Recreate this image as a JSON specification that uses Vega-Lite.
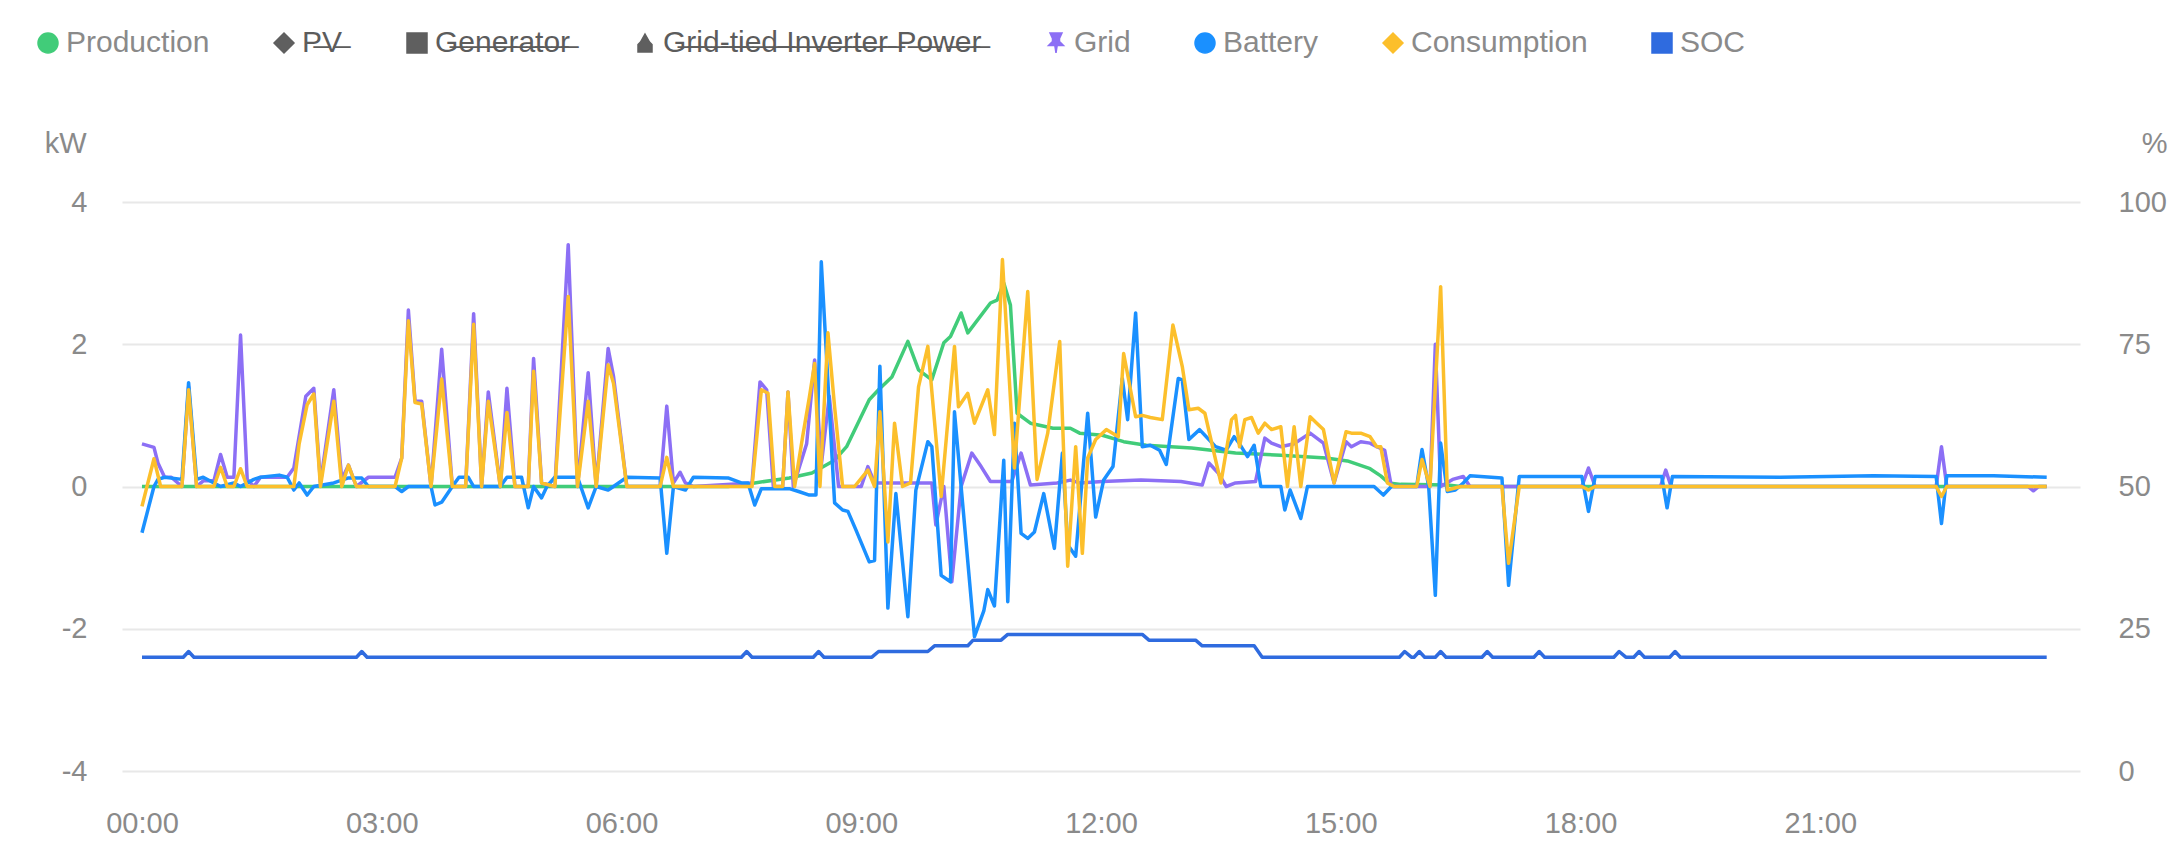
{
  "$schema": "https://vega.github.io/schema/vega-lite/v6.json",
  "width": 1958,
  "height": 569,
  "autosize": {"type": "none"},
  "padding": {"left": 122, "top": 202, "right": 93, "bottom": 70},
  "background": "white",
  "config": {
    "font": "Liberation Sans",
    "view": {"stroke": null},
    "axis": {"domain": false, "ticks": false, "tickSize": 0, "labelColor": "#8a8a8a", "labelFontSize": 29, "titleColor": "#8a8a8a", "titleFontSize": 29, "titleFontWeight": "normal", "gridColor": "#e8e8e8", "gridWidth": 2}
  },
  "datasets": {
    "d": [
      {"series":"Production","time":"00:00","value":0},{"series":"Production","time":"07:20","value":0},{"series":"Production","time":"07:40","value":0.05},{"series":"Production","time":"08:06","value":0.12},{"series":"Production","time":"08:23","value":0.19},{"series":"Production","time":"08:40","value":0.37},{"series":"Production","time":"08:49","value":0.56},{"series":"Production","time":"09:06","value":1.22},{"series":"Production","time":"09:13","value":1.36},{"series":"Production","time":"09:23","value":1.54},{"series":"Production","time":"09:35","value":2.04},{"series":"Production","time":"09:43","value":1.64},{"series":"Production","time":"09:53","value":1.5},{"series":"Production","time":"10:02","value":2.02},{"series":"Production","time":"10:07","value":2.11},{"series":"Production","time":"10:15","value":2.44},{"series":"Production","time":"10:20","value":2.16},{"series":"Production","time":"10:37","value":2.58},{"series":"Production","time":"10:42","value":2.62},{"series":"Production","time":"10:47","value":2.86},{"series":"Production","time":"10:52","value":2.55},{"series":"Production","time":"10:57","value":1.03},{"series":"Production","time":"11:07","value":0.89},{"series":"Production","time":"11:24","value":0.82},{"series":"Production","time":"11:37","value":0.82},{"series":"Production","time":"11:44","value":0.75},{"series":"Production","time":"12:01","value":0.72},{"series":"Production","time":"12:17","value":0.63},{"series":"Production","time":"12:34","value":0.58},{"series":"Production","time":"13:08","value":0.54},{"series":"Production","time":"13:41","value":0.47},{"series":"Production","time":"14:15","value":0.44},{"series":"Production","time":"14:49","value":0.4},{"series":"Production","time":"15:05","value":0.36},{"series":"Production","time":"15:22","value":0.25},{"series":"Production","time":"15:30","value":0.15},{"series":"Production","time":"15:36","value":0.05},{"series":"Production","time":"15:45","value":0.03},{"series":"Production","time":"16:20","value":0.02},{"series":"Production","time":"16:30","value":0},{"series":"Production","time":"23:50","value":0},

      {"series":"Grid","time":"00:00","value":0.6},{"series":"Grid","time":"00:09","value":0.55},{"series":"Grid","time":"00:12","value":0.33},{"series":"Grid","time":"00:17","value":0.13},{"series":"Grid","time":"00:22","value":0.13},{"series":"Grid","time":"00:30","value":0},{"series":"Grid","time":"00:35","value":1.4},{"series":"Grid","time":"00:41","value":0},{"series":"Grid","time":"00:46","value":0.08},{"series":"Grid","time":"00:54","value":0.08},{"series":"Grid","time":"00:59","value":0.45},{"series":"Grid","time":"01:04","value":0.13},{"series":"Grid","time":"01:09","value":0.13},{"series":"Grid","time":"01:14","value":2.13},{"series":"Grid","time":"01:19","value":0.1},{"series":"Grid","time":"01:24","value":0},{"series":"Grid","time":"01:29","value":0.13},{"series":"Grid","time":"01:49","value":0.13},{"series":"Grid","time":"01:54","value":0.26},{"series":"Grid","time":"02:03","value":1.27},{"series":"Grid","time":"02:09","value":1.38},{"series":"Grid","time":"02:14","value":0.05},{"series":"Grid","time":"02:24","value":1.36},{"series":"Grid","time":"02:30","value":0.1},{"series":"Grid","time":"02:35","value":0.3},{"series":"Grid","time":"02:41","value":0},{"series":"Grid","time":"02:50","value":0.13},{"series":"Grid","time":"03:10","value":0.13},{"series":"Grid","time":"03:15","value":0.4},{"series":"Grid","time":"03:20","value":2.48},{"series":"Grid","time":"03:25","value":1.2},{"series":"Grid","time":"03:30","value":1.2},{"series":"Grid","time":"03:37","value":0},{"series":"Grid","time":"03:45","value":1.93},{"series":"Grid","time":"03:53","value":0},{"series":"Grid","time":"04:03","value":0},{"series":"Grid","time":"04:09","value":2.43},{"series":"Grid","time":"04:15","value":0},{"series":"Grid","time":"04:20","value":1.33},{"series":"Grid","time":"04:29","value":0},{"series":"Grid","time":"04:34","value":1.38},{"series":"Grid","time":"04:40","value":0},{"series":"Grid","time":"04:50","value":0},{"series":"Grid","time":"04:54","value":1.8},{"series":"Grid","time":"05:00","value":0.05},{"series":"Grid","time":"05:10","value":0},{"series":"Grid","time":"05:20","value":3.4},{"series":"Grid","time":"05:27","value":0},{"series":"Grid","time":"05:35","value":1.6},{"series":"Grid","time":"05:41","value":0},{"series":"Grid","time":"05:50","value":1.94},{"series":"Grid","time":"05:54","value":1.55},{"series":"Grid","time":"06:04","value":0},{"series":"Grid","time":"06:29","value":0},{"series":"Grid","time":"06:34","value":1.13},{"series":"Grid","time":"06:39","value":0.05},{"series":"Grid","time":"06:44","value":0.2},{"series":"Grid","time":"06:48","value":0.05},{"series":"Grid","time":"06:54","value":0},{"series":"Grid","time":"07:38","value":0.05},{"series":"Grid","time":"07:44","value":1.47},{"series":"Grid","time":"07:49","value":1.36},{"series":"Grid","time":"07:54","value":0},{"series":"Grid","time":"08:01","value":0},{"series":"Grid","time":"08:05","value":1.33},{"series":"Grid","time":"08:09","value":0},{"series":"Grid","time":"08:19","value":0.6},{"series":"Grid","time":"08:25","value":1.78},{"series":"Grid","time":"08:30","value":0.3},{"series":"Grid","time":"08:36","value":1.27},{"series":"Grid","time":"08:43","value":0},{"series":"Grid","time":"09:00","value":0},{"series":"Grid","time":"09:05","value":0.28},{"series":"Grid","time":"09:10","value":0.05},{"series":"Grid","time":"09:53","value":0.05},{"series":"Grid","time":"09:56","value":-0.54},{"series":"Grid","time":"10:02","value":0},{"series":"Grid","time":"10:08","value":-1.34},{"series":"Grid","time":"10:15","value":0},{"series":"Grid","time":"10:23","value":0.47},{"series":"Grid","time":"10:30","value":0.28},{"series":"Grid","time":"10:37","value":0.07},{"series":"Grid","time":"10:53","value":0.07},{"series":"Grid","time":"11:00","value":0.47},{"series":"Grid","time":"11:07","value":0.02},{"series":"Grid","time":"11:27","value":0.05},{"series":"Grid","time":"11:37","value":0.09},{"series":"Grid","time":"11:44","value":0.05},{"series":"Grid","time":"12:01","value":0.07},{"series":"Grid","time":"12:30","value":0.09},{"series":"Grid","time":"13:00","value":0.07},{"series":"Grid","time":"13:16","value":0.02},{"series":"Grid","time":"13:21","value":0.33},{"series":"Grid","time":"13:28","value":0.19},{"series":"Grid","time":"13:34","value":0},{"series":"Grid","time":"13:41","value":0.05},{"series":"Grid","time":"13:56","value":0.07},{"series":"Grid","time":"14:03","value":0.68},{"series":"Grid","time":"14:08","value":0.61},{"series":"Grid","time":"14:15","value":0.56},{"series":"Grid","time":"14:25","value":0.6},{"series":"Grid","time":"14:37","value":0.75},{"series":"Grid","time":"14:47","value":0.61},{"series":"Grid","time":"14:55","value":0.05},{"series":"Grid","time":"15:04","value":0.63},{"series":"Grid","time":"15:08","value":0.56},{"series":"Grid","time":"15:15","value":0.63},{"series":"Grid","time":"15:22","value":0.61},{"series":"Grid","time":"15:27","value":0.56},{"series":"Grid","time":"15:33","value":0.51},{"series":"Grid","time":"15:38","value":0},{"series":"Grid","time":"16:07","value":0},{"series":"Grid","time":"16:11","value":2.0},{"series":"Grid","time":"16:15","value":0},{"series":"Grid","time":"16:24","value":0.1},{"series":"Grid","time":"16:32","value":0.14},{"series":"Grid","time":"16:37","value":0},{"series":"Grid","time":"18:01","value":0},{"series":"Grid","time":"18:06","value":0.26},{"series":"Grid","time":"18:11","value":0},{"series":"Grid","time":"19:00","value":0},{"series":"Grid","time":"19:04","value":0.23},{"series":"Grid","time":"19:08","value":0},{"series":"Grid","time":"22:27","value":0},{"series":"Grid","time":"22:31","value":0.56},{"series":"Grid","time":"22:35","value":0},{"series":"Grid","time":"23:36","value":0},{"series":"Grid","time":"23:40","value":-0.06},{"series":"Grid","time":"23:44","value":0},{"series":"Grid","time":"23:50","value":0},

      {"series":"Battery","time":"00:00","value":-0.65},{"series":"Battery","time":"00:09","value":0},{"series":"Battery","time":"00:12","value":0.1},{"series":"Battery","time":"00:17","value":0.13},{"series":"Battery","time":"00:30","value":0.1},{"series":"Battery","time":"00:35","value":1.46},{"series":"Battery","time":"00:41","value":0.1},{"series":"Battery","time":"00:46","value":0.13},{"series":"Battery","time":"00:54","value":0.05},{"series":"Battery","time":"00:59","value":0},{"series":"Battery","time":"01:09","value":0.05},{"series":"Battery","time":"01:14","value":0},{"series":"Battery","time":"01:24","value":0.1},{"series":"Battery","time":"01:29","value":0.13},{"series":"Battery","time":"01:43","value":0.16},{"series":"Battery","time":"01:49","value":0.13},{"series":"Battery","time":"01:54","value":-0.05},{"series":"Battery","time":"01:58","value":0.05},{"series":"Battery","time":"02:04","value":-0.12},{"series":"Battery","time":"02:09","value":0},{"series":"Battery","time":"02:24","value":0.05},{"series":"Battery","time":"02:35","value":0.12},{"series":"Battery","time":"02:45","value":0.12},{"series":"Battery","time":"02:50","value":0},{"series":"Battery","time":"03:10","value":0},{"series":"Battery","time":"03:15","value":-0.07},{"series":"Battery","time":"03:20","value":0},{"series":"Battery","time":"03:37","value":0},{"series":"Battery","time":"03:40","value":-0.26},{"series":"Battery","time":"03:45","value":-0.22},{"series":"Battery","time":"03:53","value":0},{"series":"Battery","time":"03:58","value":0.13},{"series":"Battery","time":"04:05","value":0.13},{"series":"Battery","time":"04:09","value":0},{"series":"Battery","time":"04:29","value":0},{"series":"Battery","time":"04:34","value":0.13},{"series":"Battery","time":"04:45","value":0.13},{"series":"Battery","time":"04:50","value":-0.3},{"series":"Battery","time":"04:54","value":0},{"series":"Battery","time":"05:00","value":-0.16},{"series":"Battery","time":"05:04","value":0},{"series":"Battery","time":"05:10","value":0.13},{"series":"Battery","time":"05:27","value":0.13},{"series":"Battery","time":"05:35","value":-0.3},{"series":"Battery","time":"05:41","value":0},{"series":"Battery","time":"05:50","value":-0.05},{"series":"Battery","time":"05:54","value":0},{"series":"Battery","time":"06:04","value":0.13},{"series":"Battery","time":"06:29","value":0.12},{"series":"Battery","time":"06:34","value":-0.94},{"series":"Battery","time":"06:39","value":0},{"series":"Battery","time":"06:48","value":-0.05},{"series":"Battery","time":"06:54","value":0.13},{"series":"Battery","time":"07:20","value":0.12},{"series":"Battery","time":"07:30","value":0.05},{"series":"Battery","time":"07:35","value":0.05},{"series":"Battery","time":"07:40","value":-0.26},{"series":"Battery","time":"07:45","value":-0.03},{"series":"Battery","time":"08:06","value":-0.03},{"series":"Battery","time":"08:13","value":-0.07},{"series":"Battery","time":"08:21","value":-0.12},{"series":"Battery","time":"08:26","value":-0.12},{"series":"Battery","time":"08:30","value":3.16},{"series":"Battery","time":"08:40","value":-0.23},{"series":"Battery","time":"08:46","value":-0.33},{"series":"Battery","time":"08:50","value":-0.35},{"series":"Battery","time":"08:56","value":-0.61},{"series":"Battery","time":"09:06","value":-1.06},{"series":"Battery","time":"09:10","value":-1.04},{"series":"Battery","time":"09:14","value":1.69},{"series":"Battery","time":"09:20","value":-1.71},{"series":"Battery","time":"09:26","value":-0.1},{"series":"Battery","time":"09:35","value":-1.83},{"series":"Battery","time":"09:41","value":-0.05},{"series":"Battery","time":"09:50","value":0.63},{"series":"Battery","time":"09:53","value":0.56},{"series":"Battery","time":"10:00","value":-1.25},{"series":"Battery","time":"10:07","value":-1.34},{"series":"Battery","time":"10:10","value":1.05},{"series":"Battery","time":"10:25","value":-2.11},{"series":"Battery","time":"10:32","value":-1.75},{"series":"Battery","time":"10:35","value":-1.45},{"series":"Battery","time":"10:40","value":-1.68},{"series":"Battery","time":"10:47","value":0.37},{"series":"Battery","time":"10:50","value":-1.62},{"series":"Battery","time":"10:55","value":0.89},{"series":"Battery","time":"11:00","value":-0.66},{"series":"Battery","time":"11:05","value":-0.73},{"series":"Battery","time":"11:10","value":-0.64},{"series":"Battery","time":"11:17","value":-0.1},{"series":"Battery","time":"11:25","value":-0.87},{"series":"Battery","time":"11:31","value":0.47},{"series":"Battery","time":"11:35","value":-0.82},{"series":"Battery","time":"11:41","value":-0.98},{"series":"Battery","time":"11:50","value":1.03},{"series":"Battery","time":"11:56","value":-0.43},{"series":"Battery","time":"12:02","value":0.09},{"series":"Battery","time":"12:09","value":0.28},{"series":"Battery","time":"12:16","value":1.52},{"series":"Battery","time":"12:20","value":0.94},{"series":"Battery","time":"12:26","value":2.44},{"series":"Battery","time":"12:31","value":0.56},{"series":"Battery","time":"12:37","value":0.58},{"series":"Battery","time":"12:44","value":0.51},{"series":"Battery","time":"12:49","value":0.31},{"series":"Battery","time":"12:58","value":1.52},{"series":"Battery","time":"13:01","value":1.5},{"series":"Battery","time":"13:06","value":0.66},{"series":"Battery","time":"13:14","value":0.8},{"series":"Battery","time":"13:21","value":0.66},{"series":"Battery","time":"13:26","value":0.56},{"series":"Battery","time":"13:34","value":0.51},{"series":"Battery","time":"13:40","value":0.7},{"series":"Battery","time":"13:44","value":0.6},{"series":"Battery","time":"13:50","value":0.42},{"series":"Battery","time":"13:55","value":0.58},{"series":"Battery","time":"14:00","value":0},{"series":"Battery","time":"14:15","value":0},{"series":"Battery","time":"14:18","value":-0.33},{"series":"Battery","time":"14:22","value":-0.05},{"series":"Battery","time":"14:30","value":-0.45},{"series":"Battery","time":"14:35","value":0},{"series":"Battery","time":"15:25","value":0},{"series":"Battery","time":"15:32","value":-0.12},{"series":"Battery","time":"15:38","value":0},{"series":"Battery","time":"15:57","value":0},{"series":"Battery","time":"16:01","value":0.52},{"series":"Battery","time":"16:06","value":0},{"series":"Battery","time":"16:11","value":-1.53},{"series":"Battery","time":"16:15","value":0.61},{"series":"Battery","time":"16:20","value":-0.07},{"series":"Battery","time":"16:26","value":-0.05},{"series":"Battery","time":"16:32","value":0.05},{"series":"Battery","time":"16:37","value":0.15},{"series":"Battery","time":"17:01","value":0.12},{"series":"Battery","time":"17:06","value":-1.39},{"series":"Battery","time":"17:14","value":0.14},{"series":"Battery","time":"18:01","value":0.14},{"series":"Battery","time":"18:06","value":-0.35},{"series":"Battery","time":"18:11","value":0.14},{"series":"Battery","time":"19:01","value":0.14},{"series":"Battery","time":"19:05","value":-0.3},{"series":"Battery","time":"19:09","value":0.14},{"series":"Battery","time":"20:30","value":0.13},{"series":"Battery","time":"21:40","value":0.15},{"series":"Battery","time":"22:27","value":0.14},{"series":"Battery","time":"22:31","value":-0.52},{"series":"Battery","time":"22:35","value":0.15},{"series":"Battery","time":"23:10","value":0.15},{"series":"Battery","time":"23:50","value":0.13},

      {"series":"Consumption","time":"00:00","value":-0.28},{"series":"Consumption","time":"00:09","value":0.39},{"series":"Consumption","time":"00:14","value":0},{"series":"Consumption","time":"00:30","value":0},{"series":"Consumption","time":"00:35","value":1.36},{"series":"Consumption","time":"00:41","value":0},{"series":"Consumption","time":"00:54","value":0},{"series":"Consumption","time":"00:59","value":0.27},{"series":"Consumption","time":"01:04","value":0},{"series":"Consumption","time":"01:09","value":0},{"series":"Consumption","time":"01:14","value":0.25},{"series":"Consumption","time":"01:19","value":0},{"series":"Consumption","time":"01:54","value":0},{"series":"Consumption","time":"01:58","value":0.6},{"series":"Consumption","time":"02:04","value":1.15},{"series":"Consumption","time":"02:09","value":1.3},{"series":"Consumption","time":"02:14","value":0},{"series":"Consumption","time":"02:24","value":1.2},{"series":"Consumption","time":"02:30","value":0},{"series":"Consumption","time":"02:35","value":0.3},{"series":"Consumption","time":"02:41","value":0},{"series":"Consumption","time":"03:10","value":0},{"series":"Consumption","time":"03:15","value":0.4},{"series":"Consumption","time":"03:20","value":2.33},{"series":"Consumption","time":"03:25","value":1.18},{"series":"Consumption","time":"03:30","value":1.16},{"series":"Consumption","time":"03:37","value":0},{"series":"Consumption","time":"03:45","value":1.51},{"series":"Consumption","time":"03:53","value":0},{"series":"Consumption","time":"04:03","value":0},{"series":"Consumption","time":"04:09","value":2.28},{"series":"Consumption","time":"04:15","value":0},{"series":"Consumption","time":"04:20","value":1.2},{"series":"Consumption","time":"04:29","value":0},{"series":"Consumption","time":"04:34","value":1.04},{"series":"Consumption","time":"04:40","value":0},{"series":"Consumption","time":"04:50","value":0},{"series":"Consumption","time":"04:54","value":1.62},{"series":"Consumption","time":"05:00","value":0.05},{"series":"Consumption","time":"05:10","value":0},{"series":"Consumption","time":"05:20","value":2.67},{"series":"Consumption","time":"05:27","value":0},{"series":"Consumption","time":"05:35","value":1.2},{"series":"Consumption","time":"05:41","value":0},{"series":"Consumption","time":"05:50","value":1.71},{"series":"Consumption","time":"05:54","value":1.45},{"series":"Consumption","time":"06:04","value":0},{"series":"Consumption","time":"06:29","value":0},{"series":"Consumption","time":"06:34","value":0.41},{"series":"Consumption","time":"06:39","value":0},{"series":"Consumption","time":"07:38","value":0},{"series":"Consumption","time":"07:45","value":1.36},{"series":"Consumption","time":"07:50","value":1.31},{"series":"Consumption","time":"07:55","value":0},{"series":"Consumption","time":"08:01","value":0},{"series":"Consumption","time":"08:05","value":1.33},{"series":"Consumption","time":"08:10","value":0},{"series":"Consumption","time":"08:16","value":0.7},{"series":"Consumption","time":"08:21","value":1.25},{"series":"Consumption","time":"08:25","value":1.73},{"series":"Consumption","time":"08:29","value":0},{"series":"Consumption","time":"08:35","value":2.16},{"series":"Consumption","time":"08:40","value":1.12},{"series":"Consumption","time":"08:46","value":0},{"series":"Consumption","time":"08:55","value":0},{"series":"Consumption","time":"09:05","value":0.23},{"series":"Consumption","time":"09:10","value":0},{"series":"Consumption","time":"09:14","value":1.05},{"series":"Consumption","time":"09:20","value":-0.78},{"series":"Consumption","time":"09:25","value":0.89},{"series":"Consumption","time":"09:31","value":0},{"series":"Consumption","time":"09:37","value":0.05},{"series":"Consumption","time":"09:43","value":1.4},{"series":"Consumption","time":"09:50","value":1.97},{"series":"Consumption","time":"10:00","value":-0.14},{"series":"Consumption","time":"10:10","value":1.97},{"series":"Consumption","time":"10:13","value":1.12},{"series":"Consumption","time":"10:20","value":1.31},{"series":"Consumption","time":"10:25","value":0.89},{"series":"Consumption","time":"10:35","value":1.36},{"series":"Consumption","time":"10:40","value":0.73},{"series":"Consumption","time":"10:46","value":3.19},{"series":"Consumption","time":"10:55","value":0.26},{"series":"Consumption","time":"11:05","value":2.74},{"series":"Consumption","time":"11:12","value":0.1},{"series":"Consumption","time":"11:20","value":0.75},{"series":"Consumption","time":"11:29","value":2.04},{"series":"Consumption","time":"11:35","value":-1.12},{"series":"Consumption","time":"11:41","value":0.56},{"series":"Consumption","time":"11:46","value":-0.94},{"series":"Consumption","time":"11:50","value":0.4},{"series":"Consumption","time":"11:56","value":0.66},{"series":"Consumption","time":"12:04","value":0.8},{"series":"Consumption","time":"12:13","value":0.7},{"series":"Consumption","time":"12:17","value":1.87},{"series":"Consumption","time":"12:26","value":0.98},{"series":"Consumption","time":"12:31","value":1.0},{"series":"Consumption","time":"12:37","value":0.97},{"series":"Consumption","time":"12:46","value":0.94},{"series":"Consumption","time":"12:54","value":2.27},{"series":"Consumption","time":"13:01","value":1.69},{"series":"Consumption","time":"13:06","value":1.08},{"series":"Consumption","time":"13:13","value":1.1},{"series":"Consumption","time":"13:18","value":1.03},{"series":"Consumption","time":"13:30","value":0.05},{"series":"Consumption","time":"13:38","value":0.94},{"series":"Consumption","time":"13:41","value":1.0},{"series":"Consumption","time":"13:44","value":0.56},{"series":"Consumption","time":"13:48","value":0.94},{"series":"Consumption","time":"13:53","value":0.97},{"series":"Consumption","time":"13:58","value":0.75},{"series":"Consumption","time":"14:03","value":0.89},{"series":"Consumption","time":"14:08","value":0.8},{"series":"Consumption","time":"14:15","value":0.84},{"series":"Consumption","time":"14:20","value":0},{"series":"Consumption","time":"14:25","value":0.84},{"series":"Consumption","time":"14:30","value":0},{"series":"Consumption","time":"14:37","value":0.98},{"series":"Consumption","time":"14:42","value":0.89},{"series":"Consumption","time":"14:47","value":0.8},{"series":"Consumption","time":"14:55","value":0.05},{"series":"Consumption","time":"15:04","value":0.77},{"series":"Consumption","time":"15:08","value":0.75},{"series":"Consumption","time":"15:15","value":0.75},{"series":"Consumption","time":"15:22","value":0.7},{"series":"Consumption","time":"15:27","value":0.56},{"series":"Consumption","time":"15:30","value":0.56},{"series":"Consumption","time":"15:35","value":0.05},{"series":"Consumption","time":"15:40","value":0},{"series":"Consumption","time":"15:57","value":0},{"series":"Consumption","time":"16:01","value":0.38},{"series":"Consumption","time":"16:07","value":0},{"series":"Consumption","time":"16:15","value":2.81},{"series":"Consumption","time":"16:20","value":-0.05},{"series":"Consumption","time":"16:30","value":0},{"series":"Consumption","time":"17:01","value":0},{"series":"Consumption","time":"17:06","value":-1.08},{"series":"Consumption","time":"17:14","value":0},{"series":"Consumption","time":"18:01","value":0},{"series":"Consumption","time":"18:06","value":-0.05},{"series":"Consumption","time":"18:11","value":0},{"series":"Consumption","time":"22:27","value":0},{"series":"Consumption","time":"22:31","value":-0.14},{"series":"Consumption","time":"22:35","value":0},{"series":"Consumption","time":"23:50","value":0},

      {"series":"SOC","time":"00:00","value":20},{"series":"SOC","time":"00:31","value":20},{"series":"SOC","time":"00:35","value":21},{"series":"SOC","time":"00:39","value":20},{"series":"SOC","time":"02:41","value":20},{"series":"SOC","time":"02:45","value":21},{"series":"SOC","time":"02:49","value":20},{"series":"SOC","time":"07:30","value":20},{"series":"SOC","time":"07:34","value":21},{"series":"SOC","time":"07:38","value":20},{"series":"SOC","time":"08:24","value":20},{"series":"SOC","time":"08:28","value":21},{"series":"SOC","time":"08:32","value":20},{"series":"SOC","time":"09:08","value":20},{"series":"SOC","time":"09:13","value":21},{"series":"SOC","time":"09:50","value":21},{"series":"SOC","time":"09:55","value":22},{"series":"SOC","time":"10:20","value":22},{"series":"SOC","time":"10:24","value":23},{"series":"SOC","time":"10:45","value":23},{"series":"SOC","time":"10:50","value":24},{"series":"SOC","time":"12:31","value":24},{"series":"SOC","time":"12:36","value":23},{"series":"SOC","time":"13:11","value":23},{"series":"SOC","time":"13:16","value":22},{"series":"SOC","time":"13:55","value":22},{"series":"SOC","time":"14:01","value":20},{"series":"SOC","time":"15:44","value":20},{"series":"SOC","time":"15:48","value":21},{"series":"SOC","time":"15:53","value":20},{"series":"SOC","time":"15:55","value":20},{"series":"SOC","time":"15:59","value":21},{"series":"SOC","time":"16:03","value":20},{"series":"SOC","time":"16:11","value":20},{"series":"SOC","time":"16:15","value":21},{"series":"SOC","time":"16:19","value":20},{"series":"SOC","time":"16:46","value":20},{"series":"SOC","time":"16:50","value":21},{"series":"SOC","time":"16:54","value":20},{"series":"SOC","time":"17:25","value":20},{"series":"SOC","time":"17:29","value":21},{"series":"SOC","time":"17:33","value":20},{"series":"SOC","time":"18:25","value":20},{"series":"SOC","time":"18:29","value":21},{"series":"SOC","time":"18:34","value":20},{"series":"SOC","time":"18:40","value":20},{"series":"SOC","time":"18:44","value":21},{"series":"SOC","time":"18:48","value":20},{"series":"SOC","time":"19:07","value":20},{"series":"SOC","time":"19:11","value":21},{"series":"SOC","time":"19:15","value":20},{"series":"SOC","time":"23:50","value":20}
    ]
  },
  "data": {"name": "d", "format": {"parse": {"time": "date:'%H:%M'"}}},
  "encoding": {
    "x": {
      "field": "time",
      "type": "temporal",
      "scale": {"domain": [{"year": 1899, "month": 12, "date": 31, "hours": 23, "minutes": 45}, {"year": 1900, "month": 1, "date": 2, "hours": 0, "minutes": 15}]},
      "axis": {
        "title": null,
        "grid": false,
        "format": "%H:%M",
        "labelPadding": 38,
        "labelFlush": false,
        "labelOverlap": false,
        "values": [
          {"year": 1900, "month": 1, "date": 1, "hours": 0},
          {"year": 1900, "month": 1, "date": 1, "hours": 3},
          {"year": 1900, "month": 1, "date": 1, "hours": 6},
          {"year": 1900, "month": 1, "date": 1, "hours": 9},
          {"year": 1900, "month": 1, "date": 1, "hours": 12},
          {"year": 1900, "month": 1, "date": 1, "hours": 15},
          {"year": 1900, "month": 1, "date": 1, "hours": 18},
          {"year": 1900, "month": 1, "date": 1, "hours": 21}
        ]
      }
    }
  },
  "layer": [
    {
      "encoding": {
        "y": {
          "field": "value",
          "type": "quantitative",
          "scale": {"domain": [-4, 4], "nice": false, "zero": false},
          "axis": {"values": [-4, -2, 0, 2, 4], "labelExpr": "'' + datum.value", "grid": true, "labelPadding": 35, "title": "kW", "titleAngle": 0, "titleX": -36, "titleY": -59, "titleAlign": "right", "titleBaseline": "middle"}
        },
        "color": {
          "field": "series",
          "type": "nominal",
          "scale": {
            "domain": ["Production", "PV", "Generator", "Grid-tied Inverter Power", "Grid", "Battery", "Consumption", "SOC"],
            "range": ["#41cc79", "#5f5f5f", "#5f5f5f", "#5f5f5f", "#8c6ff5", "#1a90ff", "#fcbf2b", "#2f6bdf"]
          },
          "legend": {
            "title": null,
            "orient": "none",
            "direction": "horizontal",
            "legendX": -89,
            "legendY": -174,
            "padding": 0,
            "columnPadding": 59,
            "labelOffset": 3,
            "symbolSize": 400,
            "symbolType": "circle",
            "labelFontSize": 30,
            "labelLimit": 0,
            "labelColor": "#8a8a8a",
            "labelExpr": "datum.label === 'PV' ? 'P\u0336V\u0336' : datum.label === 'Generator' ? 'G\u0336e\u0336n\u0336e\u0336r\u0336a\u0336t\u0336o\u0336r\u0336' : datum.label === 'Grid-tied Inverter Power' ? 'G\u0336r\u0336i\u0336d\u0336-\u0336t\u0336i\u0336e\u0336d\u0336 \u0336I\u0336n\u0336v\u0336e\u0336r\u0336t\u0336e\u0336r\u0336 \u0336P\u0336o\u0336w\u0336e\u0336r\u0336' : datum.label",
            "encode": {
              "symbols": {"update": {
                "shape": {"signal": "datum.value === 'Production' || datum.value === 'Battery' ? 'circle' : (datum.value === 'PV' || datum.value === 'Consumption') ? 'diamond' : (datum.value === 'Generator' || datum.value === 'SOC') ? 'square' : datum.value === 'Grid' ? 'M-0.6,-1L0.6,-1L0.35,-0.45L0.35,-0.15L0.75,0.25L0.12,0.25L0,1L-0.12,0.25L-0.75,0.25L-0.35,-0.15L-0.35,-0.45Z' : 'M0,-0.9L0.45,-0.1L0.7,0.15L0.7,0.9L-0.7,0.9L-0.7,0.15L-0.45,-0.1Z'"},
                "fill": {"scale": "color", "field": "value"},
                "stroke": {"value": "transparent"},
                "opacity": {"value": 1}
              }},
              "labels": {"update": {"fill": {"signal": "indexof(['PV','Generator','Grid-tied Inverter Power'], datum.value) >= 0 ? '#5c5c5c' : '#8a8a8a'"}}}
            }
          }
        }
      },
      "layer": [
        {"transform": [{"filter": "datum.series === 'Production'"}], "mark": {"type": "line", "strokeWidth": 3.5, "strokeJoin": "round"}},
        {"transform": [{"filter": "datum.series === 'Grid'"}], "mark": {"type": "line", "strokeWidth": 3.5, "strokeJoin": "round"}},
        {"transform": [{"filter": "datum.series === 'Battery'"}], "mark": {"type": "line", "strokeWidth": 3.5, "strokeJoin": "round"}},
        {"transform": [{"filter": "datum.series === 'Consumption'"}], "mark": {"type": "line", "strokeWidth": 3.5, "strokeJoin": "round"}}
      ]
    },
    {
      "transform": [{"filter": "datum.series === 'SOC'"}],
      "mark": {"type": "line", "strokeWidth": 3.5, "strokeJoin": "round"},
      "encoding": {
        "y": {
          "field": "value",
          "type": "quantitative",
          "scale": {"domain": [0, 100], "nice": false},
          "axis": {"orient": "right", "values": [0, 25, 50, 75, 100], "grid": false, "labelPadding": 38, "title": "%", "titleAngle": 0, "titleX": 87, "titleY": -59, "titleAlign": "right", "titleBaseline": "middle"}
        },
        "color": {"field": "series", "type": "nominal"}
      }
    }
  ],
  "resolve": {"scale": {"y": "independent"}}
}
